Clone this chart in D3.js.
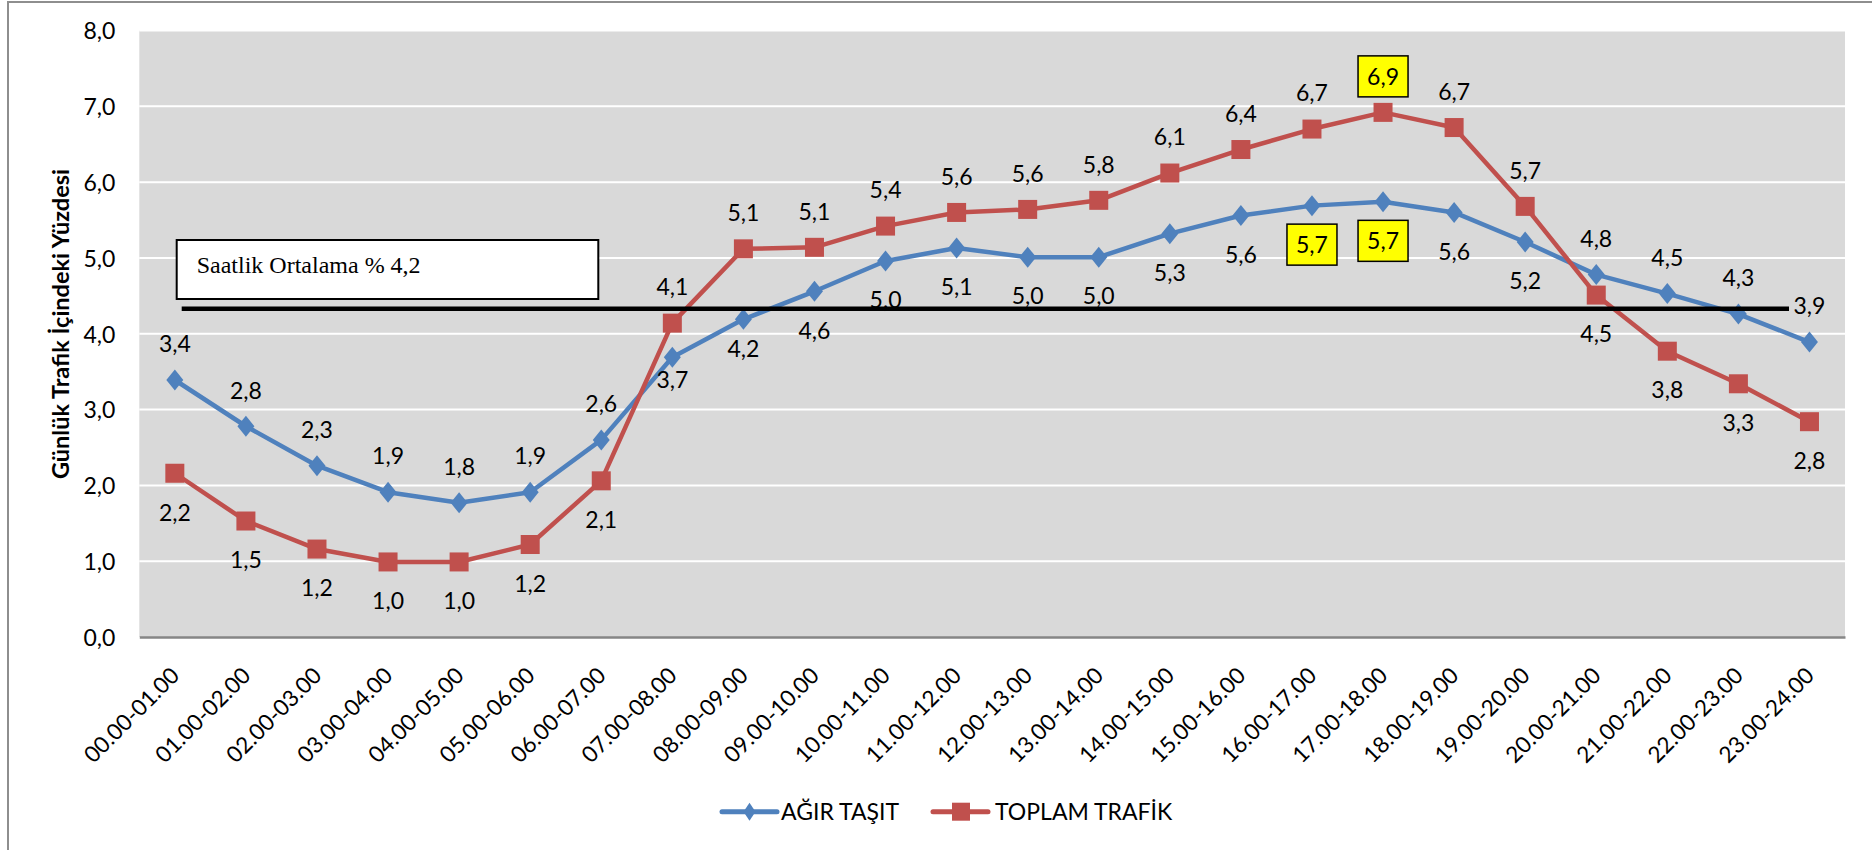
<!DOCTYPE html>
<html>
<head>
<meta charset="utf-8">
<script src="https://cdn.jsdelivr.net/npm/d3@7"></script>
<style>
  html, body { margin: 0; padding: 0; background: #fff; }
  svg { display: block; }
  text { font-family: Lato, "Open Sans", sans-serif; fill: #000; }
  text.serif { font-family: "Liberation Serif", "Times New Roman", serif; }
</style>
</head>
<body>
<svg id="chart" width="1872" height="850"></svg>
<script>
// ---------------- data ----------------
const categories = [
  "00.00-01.00","01.00-02.00","02.00-03.00","03.00-04.00","04.00-05.00","05.00-06.00",
  "06.00-07.00","07.00-08.00","08.00-09.00","09.00-10.00","10.00-11.00","11.00-12.00",
  "12.00-13.00","13.00-14.00","14.00-15.00","15.00-16.00","16.00-17.00","17.00-18.00",
  "18.00-19.00","19.00-20.00","20.00-21.00","21.00-22.00","22.00-23.00","23.00-24.00"
];
const agirTasit = [3.39, 2.78, 2.26, 1.91, 1.77, 1.91, 2.60, 3.69, 4.19, 4.56, 4.96, 5.13,
                   5.01, 5.01, 5.32, 5.56, 5.69, 5.74, 5.60, 5.21, 4.78, 4.53, 4.26, 3.89];
const toplamTrafik = [2.16, 1.53, 1.16, 0.99, 0.99, 1.22, 2.06, 4.14, 5.12, 5.14, 5.42, 5.60,
                      5.64, 5.76, 6.12, 6.43, 6.70, 6.92, 6.72, 5.68, 4.51, 3.77, 3.34, 2.84];
const seriesNames = ["AĞIR TAŞIT", "TOPLAM TRAFİK"];
const yTicks = [0, 1, 2, 3, 4, 5, 6, 7, 8];
const yTitle = "Günlük Trafik İçindeki Yüzdesi";
const averageText = "Saatlik Ortalama % 4,2";
const averageLineValue = 4.33;
// label placement: a = above the marker, b = below
const agirPlace   = ["a","a","a","a","a","a","a","b","b","b","b","b","b","b","b","b","b","b","b","b","a","a","a","a"];
const toplamPlace = ["b","b","b","b","b","b","b","a","a","a","a","a","a","a","a","a","a","a","a","a","b","b","b","b"];
const agirHighlight = [16, 17];
const toplamHighlight = [17];

// ---------------- layout ----------------
const W = 1872, H = 850;
const plot = { left: 139.3, right: 1845, top: 30.5, bottom: 637 };
const blue = "#4F81BD", red = "#C0504D";
const fmt = v => v.toFixed(1).replace(".", ",");

const svg = d3.select("#chart");

// chart area border (extends beyond the picture on the right and bottom)
svg.append("rect").attr("x", 8).attr("y", 2).attr("width", W + 20).attr("height", H + 20)
  .attr("fill", "#fff").attr("stroke", "#8E8E8E").attr("stroke-width", 2);

const x = d3.scaleBand().domain(categories).range([plot.left, plot.right]).padding(0);
const y = d3.scaleLinear().domain([0, 8]).range([plot.bottom, plot.top]);
const cx = c => x(c) + x.bandwidth() / 2;

// plot background
svg.append("rect").attr("x", plot.left).attr("y", plot.top)
  .attr("width", plot.right - plot.left).attr("height", plot.bottom - plot.top)
  .attr("fill", "#D9D9D9");

// gridlines + y tick labels via axis
const yAxis = d3.axisLeft(y).tickValues(yTicks).tickFormat(fmt).tickSize(0).tickPadding(24);
const gy = svg.append("g").attr("transform", `translate(${plot.left},0)`).call(yAxis);
gy.select(".domain").remove();
gy.selectAll("text").attr("font-size", 23).attr("fill", "#000").attr("dy", "0.36em");
svg.append("g").selectAll("line").data(yTicks.filter(t => t > 0)).join("line")
  .attr("x1", plot.left).attr("x2", plot.right)
  .attr("y1", d => y(d)).attr("y2", d => y(d))
  .attr("stroke", "#fff").attr("stroke-width", 2);

// x axis
const xAxis = d3.axisBottom(x).tickSize(0).tickPadding(0);
const gx = svg.append("g").attr("transform", `translate(0,${plot.bottom})`).call(xAxis);
gx.select(".domain").attr("stroke", "#868686").attr("stroke-width", 2.5);
gx.selectAll("text")
  .attr("font-size", 22.5).attr("fill", "#000")
  .attr("text-anchor", "end")
  .attr("dy", 0).attr("y", 0)
  .attr("transform", "translate(6,40) rotate(-45)");

// y title
svg.append("text")
  .attr("transform", `translate(69,${(173 + 475) / 2}) rotate(-90)`)
  .attr("text-anchor", "middle")
  .attr("font-size", 23.5).attr("font-weight", "bold")
  .text(yTitle);

// lines
const line = d3.line().x((d, i) => cx(categories[i])).y(d => y(d));
svg.append("path").datum(agirTasit).attr("d", line).attr("fill", "none")
  .attr("stroke", blue).attr("stroke-width", 4.5).attr("stroke-linejoin", "round");
svg.append("path").datum(toplamTrafik).attr("d", line).attr("fill", "none")
  .attr("stroke", red).attr("stroke-width", 4.5).attr("stroke-linejoin", "round");

// markers
svg.append("g").selectAll("path").data(agirTasit).join("path")
  .attr("transform", (d, i) => `translate(${cx(categories[i])},${y(d)})`)
  .attr("d", "M0,-10.5L8.5,0L0,10.5L-8.5,0Z").attr("fill", blue);
svg.append("g").selectAll("rect").data(toplamTrafik).join("rect")
  .attr("x", (d, i) => cx(categories[i]) - 9.5).attr("y", d => y(d) - 9.5)
  .attr("width", 19).attr("height", 19).attr("fill", red);

// data labels
const capHalf = 8.3;
function labels(values, place, highlight, nudge) {
  const g = svg.append("g");
  values.forEach((v, i) => {
    const px = cx(categories[i]);
    let cy = place[i] === "a" ? y(v) - 36 : y(v) + 39;
    if (nudge[i] !== undefined) cy = y(v) + nudge[i];
    if (highlight.includes(i)) {
      g.append("rect").attr("x", px - 25).attr("y", cy - 20.5).attr("width", 50).attr("height", 41)
        .attr("fill", "#FFFF00").attr("stroke", "#000").attr("stroke-width", 1.5);
    }
    g.append("text").attr("x", px).attr("y", cy + capHalf).attr("text-anchor", "middle")
      .attr("font-size", 23).text(fmt(v));
  });
}
labels(agirTasit, agirPlace, agirHighlight, { 7: 22, 8: 29 });
labels(toplamTrafik, toplamPlace, toplamHighlight, {});

// average line and text box (drawn on top)
svg.append("line").attr("x1", 181.7).attr("x2", 1789)
  .attr("y1", y(averageLineValue)).attr("y2", y(averageLineValue))
  .attr("stroke", "#000").attr("stroke-width", 4.5);
svg.append("rect").attr("x", 176.7).attr("y", 240).attr("width", 421.6).attr("height", 59)
  .attr("fill", "#fff").attr("stroke", "#000").attr("stroke-width", 2);
svg.append("text").attr("class", "serif").attr("x", 196.7).attr("y", 272.7)
  .attr("font-size", 24).text(averageText);

// legend
const lg = svg.append("g");
const ly = 811.7;
lg.append("line").attr("x1", 722).attr("x2", 777).attr("y1", ly).attr("y2", ly)
  .attr("stroke", blue).attr("stroke-width", 5).attr("stroke-linecap", "round");
lg.append("path").attr("transform", `translate(749.5,${ly})`).attr("d", "M0,-9L6,0L0,9L-6,0Z").attr("fill", blue);
lg.append("text").attr("x", 781).attr("y", ly + 8.3).attr("font-size", 23).text(seriesNames[0]);
lg.append("line").attr("x1", 933).attr("x2", 988).attr("y1", ly).attr("y2", ly)
  .attr("stroke", red).attr("stroke-width", 5).attr("stroke-linecap", "round");
lg.append("rect").attr("x", 952).attr("y", ly - 9).attr("width", 18).attr("height", 18).attr("fill", red);
lg.append("text").attr("x", 995).attr("y", ly + 8.3).attr("font-size", 23).text(seriesNames[1]);
</script>
</body>
</html>
